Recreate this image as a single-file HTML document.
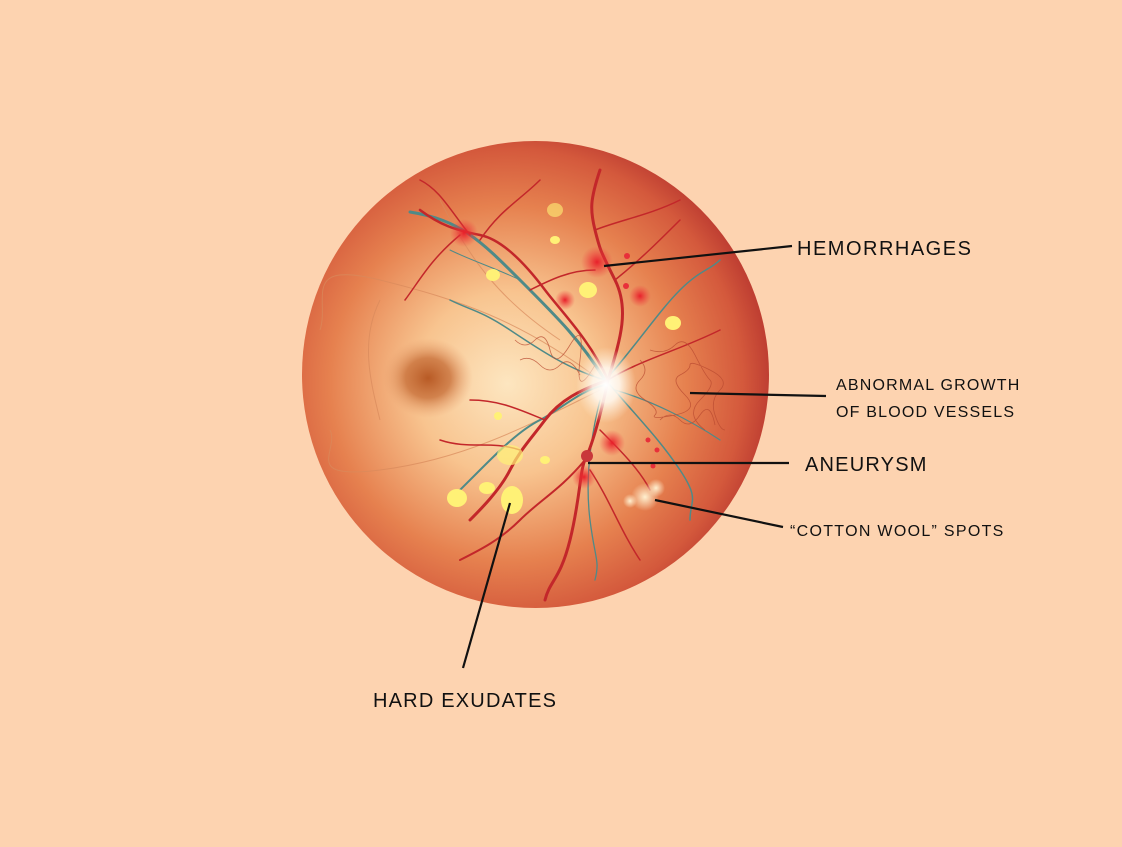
<!DOCTYPE html>
<html><head><meta charset="utf-8"><style>
html,body{margin:0;padding:0;background:#fdd3b0;}
svg{display:block}
text{font-family:"Liberation Sans",sans-serif;fill:#111;}
</style></head><body>
<svg width="1122" height="847" viewBox="0 0 1122 847" xmlns="http://www.w3.org/2000/svg">
<defs>
<radialGradient id="eye" cx="0.44" cy="0.52" r="0.56">
<stop offset="0" stop-color="#fde6c0"/>
<stop offset="0.35" stop-color="#f8c48f"/>
<stop offset="0.68" stop-color="#e6814f"/>
<stop offset="0.9" stop-color="#d4593c"/>
<stop offset="1" stop-color="#bf3f32"/>
</radialGradient>
<radialGradient id="disc"><stop offset="0" stop-color="#fff"/><stop offset="0.45" stop-color="#fff8ee" stop-opacity="0.9"/><stop offset="1" stop-color="#fff0d8" stop-opacity="0"/></radialGradient>
<radialGradient id="mac"><stop offset="0" stop-color="#b85a25"/><stop offset="0.5" stop-color="#c8703a" stop-opacity="0.8"/><stop offset="1" stop-color="#e9a070" stop-opacity="0"/></radialGradient>
<radialGradient id="hem"><stop offset="0" stop-color="#e8202a"/><stop offset="1" stop-color="#f04040" stop-opacity="0"/></radialGradient>
<radialGradient id="cw"><stop offset="0" stop-color="#fff0d0"/><stop offset="1" stop-color="#fff0d0" stop-opacity="0"/></radialGradient>
</defs>
<circle cx="535.5" cy="374.5" r="233.5" fill="url(#eye)"/>
<ellipse cx="428" cy="378" rx="45" ry="40" fill="url(#mac)"/>
<g fill="none" stroke="#d98a5c" stroke-width="1" opacity="0.7">
<path d="M600 380 C520 320 460 300 380 280 S330 300 320 330"/>
<path d="M600 390 C520 430 460 460 380 470 S340 450 330 430"/>
<path d="M380 300 C360 340 370 380 380 420"/>
<path d="M440 200 C470 260 500 300 560 340"/>
</g>
<g fill="none" stroke="#4f8a88" stroke-linecap="round">
<path d="M605 380 C580 340 560 320 520 280 S460 220 410 212" stroke-width="3"/>
<path d="M605 380 C570 370 540 350 510 330 S470 310 450 300" stroke-width="1.5"/>
<path d="M605 385 C580 390 560 410 540 420 S500 450 480 470 S460 490 450 500" stroke-width="2"/>
<path d="M610 385 C640 420 660 440 680 470 S690 500 690 520" stroke-width="1.5"/>
<path d="M610 375 C640 340 660 310 680 290 S710 270 720 260" stroke-width="1.5"/>
<path d="M615 390 C650 400 690 420 720 440" stroke-width="1.2"/>
<path d="M600 400 C590 440 585 480 590 520 S600 560 595 580" stroke-width="1.3"/>
<path d="M520 280 C500 270 470 260 450 250" stroke-width="1"/>
</g>
<g fill="none" stroke="#c3272a" stroke-linecap="round">
<path d="M608 380 C590 340 560 310 545 290 S505 240 480 235 S440 225 420 210" stroke-width="2.5"/>
<path d="M608 380 C620 340 630 310 615 280 S600 250 595 230 S590 200 600 170" stroke-width="3"/>
<path d="M608 380 C580 390 560 400 545 420 S520 450 510 470 S480 510 470 520" stroke-width="3"/>
<path d="M608 380 C600 420 590 450 585 460 S580 500 570 540 S550 580 545 600" stroke-width="3"/>
<path d="M608 380 C640 360 680 350 720 330" stroke-width="1.5"/>
<path d="M585 460 C560 490 540 500 520 520 S480 550 460 560" stroke-width="2"/>
<path d="M595 270 C570 270 550 280 530 290 M615 280 C640 260 660 240 680 220 M595 230 C620 220 650 215 680 200"  stroke-width="1.5"/>
<path d="M460 235 C430 260 420 280 405 300 M470 235 C450 210 440 190 420 180 M480 240 C500 210 520 200 540 180" stroke-width="1.5"/>
<path d="M545 420 C520 410 500 400 470 400 M520 450 C490 440 470 450 440 440" stroke-width="1.5"/>
<path d="M600 430 C620 450 640 470 650 490 M590 470 C610 500 620 530 640 560" stroke-width="1.5"/>
</g>
<g fill="none" stroke="#b84a30" stroke-width="0.8" opacity="0.75">
<path d="M640 360 q10 10 0 20 t5 20 t10 15 t20 0 t10 -20 t-5 -20 t10 -10 t20 5 t10 20 t-5 25 t10 15 M650 350 q15 5 25 -5 t20 10 t15 25 t-10 20 t5 30 M660 420 q10 -10 20 0 t20 -5 t15 10 M515 340 q10 10 20 0 t15 10 t20 -5 t10 15 t15 5 M520 360 q10 -5 20 5 t20 0 t20 10"/>
</g>
<ellipse cx="606" cy="385" rx="30" ry="38" fill="url(#disc)"/>
<g fill="#fff176">
<ellipse cx="457" cy="498" rx="10" ry="9"/>
<ellipse cx="512" cy="500" rx="11" ry="14"/>
<ellipse cx="487" cy="488" rx="8" ry="6"/>
<ellipse cx="510" cy="455" rx="13" ry="10" opacity="0.7"/>
<ellipse cx="493" cy="275" rx="7" ry="6"/>
<ellipse cx="588" cy="290" rx="9" ry="8"/>
<ellipse cx="555" cy="240" rx="5" ry="4"/>
<ellipse cx="673" cy="323" rx="8" ry="7"/>
<ellipse cx="555" cy="210" rx="8" ry="7" opacity="0.6"/>
<ellipse cx="545" cy="460" rx="5" ry="4"/>
<ellipse cx="498" cy="416" rx="4" ry="4"/>
</g>
<g fill="url(#hem)">
<circle cx="464" cy="233" r="14"/>
<circle cx="597" cy="262" r="16"/>
<circle cx="565" cy="300" r="10"/>
<circle cx="640" cy="296" r="11"/>
<circle cx="612" cy="443" r="13"/>
<circle cx="584" cy="477" r="12"/>
</g>
<circle cx="587" cy="456" r="6" fill="#c9373a"/>
<g fill="#e8303a"><circle cx="627" cy="256" r="3"/><circle cx="626" cy="286" r="3"/><circle cx="648" cy="440" r="2.5"/><circle cx="657" cy="450" r="2.5"/><circle cx="653" cy="466" r="2.5"/></g>
<g fill="url(#cw)"><circle cx="645" cy="497" r="14"/><circle cx="656" cy="488" r="9"/><circle cx="630" cy="501" r="7"/></g>
<g stroke="#111" stroke-width="2.2" fill="none">
<line x1="604" y1="266" x2="792" y2="246"/>
<line x1="690" y1="393" x2="826" y2="396"/>
<line x1="588" y1="463" x2="789" y2="463"/>
<line x1="655" y1="500" x2="783" y2="527"/>
<line x1="510" y1="503" x2="463" y2="668"/>
</g>
<text x="797" y="255" font-size="20" letter-spacing="1.5">HEMORRHAGES</text>
<text x="836" y="390" font-size="16" letter-spacing="1.2">ABNORMAL GROWTH</text>
<text x="836" y="417" font-size="16" letter-spacing="1.2">OF BLOOD VESSELS</text>
<text x="805" y="471" font-size="20" letter-spacing="1.2">ANEURYSM</text>
<text x="790" y="536" font-size="16" letter-spacing="1.3">“COTTON WOOL” SPOTS</text>
<text x="373" y="707" font-size="20" letter-spacing="1.2">HARD EXUDATES</text>
</svg>
</body></html>
